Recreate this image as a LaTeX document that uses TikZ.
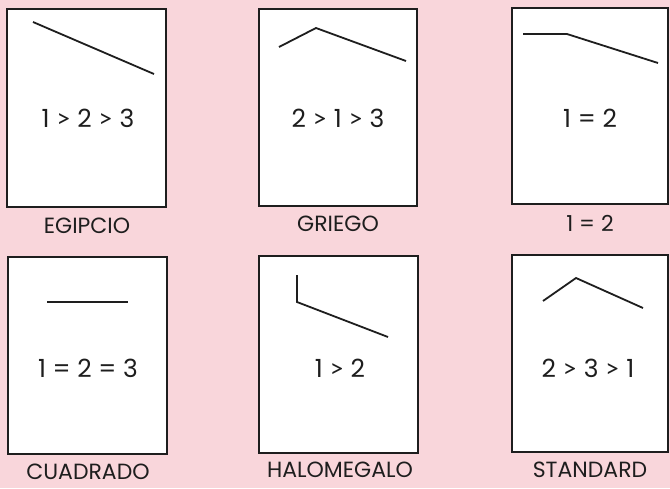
\documentclass[tikz,border=0pt]{standalone}
\usepackage{fontspec}
\setmainfont{Poppins}
\newfontfamily\gtfont{Lato}
\newcommand{\grt}{{\gtfont >}}
\definecolor{bgpink}{RGB}{249,214,219}
\definecolor{ink}{RGB}{30,30,30}
\begin{document}
\begin{tikzpicture}[x=1pt,y=-1pt,
  panel/.style={draw=ink,line width=1.8pt,fill=white},
  profile/.style={draw=ink,line width=1.8pt,line join=miter},
  ratio/.style={font=\fontsize{25}{25}\selectfont,text=ink},
  caption/.style={font=\fontsize{22}{22}\selectfont,text=ink}]
\fill[bgpink] (0,0) rectangle (670,488);
\useasboundingbox (0,0) rectangle (670,488);
% row 1
\draw[panel] (7,9) rectangle (166,207);
\draw[profile] (33,22) -- (154,74);
\node[ratio] (t1) at (88,118) {1 \grt{} 2 \grt{} 3};
\node[caption] (l1) at (87,226) {EGIPCIO};

\draw[panel] (259,9) rectangle (417,206);
\draw[profile] (279,47) -- (316,28) -- (406,61);
\node[ratio] (t2) at (338,118) {2 \grt{} 1 \grt{} 3};
\node[caption] (l2) at (338,224) {GRIEGO};

\draw[panel] (512,8) rectangle (668,204);
\draw[profile] (523,34) -- (567,34) -- (658,63);
\node[ratio] (t3) at (590,118) {1 = 2};
\node[caption] (l3) at (590,223) {1 = 2};
% row 2
\draw[panel] (8,257) rectangle (167,454);
\draw[profile] (47,302) -- (128,302);
\node[ratio] (t4) at (88,368) {1 = 2 = 3};
\node[caption] (l4) at (88,472) {CUADRADO};

\draw[panel] (259,256) rectangle (418,453);
\draw[profile] (297,275) -- (297,302) -- (388,337);
\node[ratio] (t5) at (340,368) {1 \grt{} 2};
\node[caption] (l5) at (340,470) {HALOMEGALO};

\draw[panel] (512,255) rectangle (668,452);
\draw[profile] (543,301) -- (576,278) -- (643,308);
\node[ratio] (t6) at (588,368) {2 \grt{} 3 \grt{} 1};
\node[caption] (l6) at (590,470) {STANDARD};
\end{tikzpicture}
\end{document}
